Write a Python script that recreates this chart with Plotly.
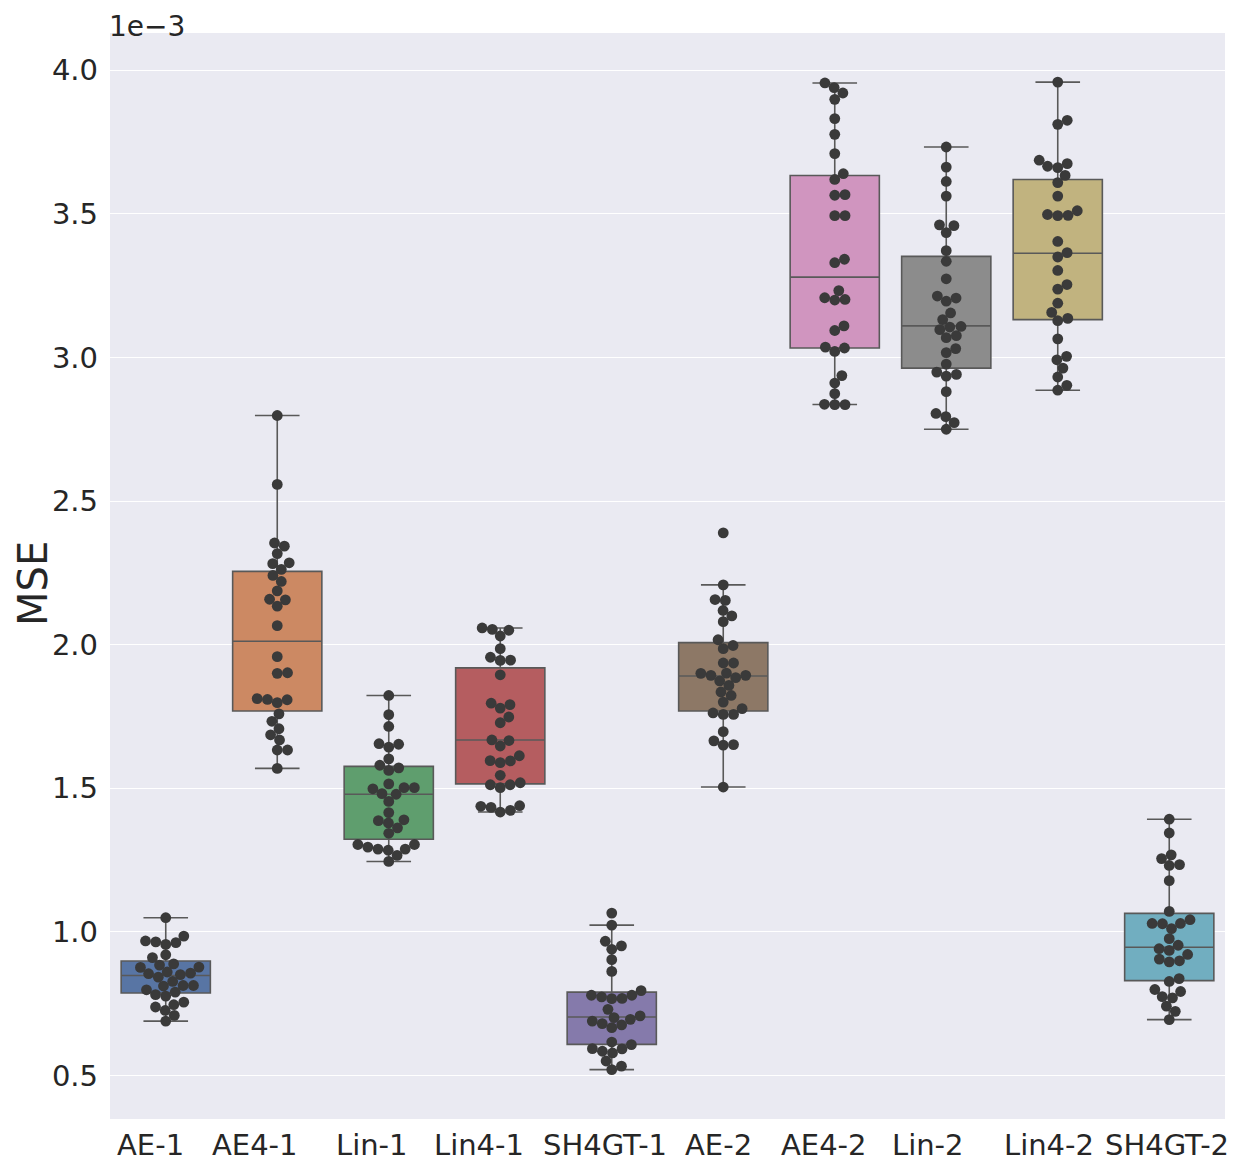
import numpy as np
import plotly.graph_objects as go

categories = ["AE-1", "AE4-1", "Lin-1", "Lin4-1", "SH4GT-1",
              "AE-2", "AE4-2", "Lin-2", "Lin4-2", "SH4GT-2"]

# MSE values (x1e-3)
ae_1 = [1.049, 0.985, 0.962, 0.956, 0.965, 0.968, 0.910, 0.920, 0.876, 0.877,
        0.884, 0.888, 0.854, 0.842, 0.860, 0.851, 0.856, 0.811, 0.827, 0.813,
        0.813, 0.798, 0.781, 0.776, 0.790, 0.755, 0.746, 0.726, 0.738, 0.709, 0.689]
ae4_1 = [2.798, 2.558, 2.343, 2.354, 2.317, 2.285, 2.282, 2.262, 2.241, 2.220,
         2.187, 2.156, 2.158, 2.134, 2.066, 1.958, 1.902, 1.900, 1.808, 1.798,
         1.809, 1.812, 1.759, 1.733, 1.707, 1.686, 1.668, 1.633, 1.633, 1.569]
lin_1 = [1.823, 1.756, 1.715, 1.653, 1.643, 1.655, 1.602, 1.571, 1.562, 1.580,
         1.515, 1.502, 1.502, 1.479, 1.481, 1.498, 1.454, 1.415, 1.390, 1.379,
         1.387, 1.362, 1.343, 1.304, 1.288, 1.266, 1.284, 1.288, 1.295, 1.304, 1.245]
lin4_1 = [2.050, 2.030, 2.053, 2.058, 1.986, 1.946, 1.945, 1.956, 1.895, 1.791,
          1.779, 1.796, 1.748, 1.728, 1.666, 1.647, 1.668, 1.613, 1.595, 1.589,
          1.596, 1.545, 1.512, 1.502, 1.512, 1.519, 1.439, 1.423, 1.417, 1.433, 1.437]
sh4gt_1 = [1.065, 1.023, 0.951, 0.939, 0.967, 0.903, 0.862, 0.795, 0.779, 0.767,
           0.768, 0.773, 0.779, 0.730, 0.695, 0.701, 0.676, 0.666, 0.680, 0.689,
           0.707, 0.616, 0.607, 0.592, 0.578, 0.584, 0.593, 0.550, 0.532, 0.520]
ae_2 = [2.389, 2.208, 2.154, 2.157, 2.119, 2.100, 2.080, 2.017, 1.997, 1.986,
        1.936, 1.936, 1.901, 1.893, 1.893, 1.874, 1.885, 1.900, 1.858, 1.835,
        1.823, 1.800, 1.777, 1.757, 1.757, 1.762, 1.697, 1.652, 1.650, 1.665, 1.504]
ae4_2 = [3.956, 3.940, 3.921, 3.899, 3.832, 3.777, 3.710, 3.640, 3.620, 3.567,
         3.565, 3.494, 3.494, 3.342, 3.330, 3.233, 3.202, 3.200, 3.208, 3.110,
         3.094, 3.033, 3.021, 3.036, 2.937, 2.911, 2.874, 2.836, 2.836, 2.837]
lin_2 = [3.733, 3.663, 3.613, 3.562, 3.462, 3.459, 3.435, 3.372, 3.335, 3.274,
         3.207, 3.196, 3.214, 3.155, 3.132, 3.108, 3.106, 3.097, 3.076, 3.069,
         3.031, 3.017, 2.977, 2.941, 2.935, 2.949, 2.881, 2.805, 2.794, 2.773, 2.750]
lin4_2 = [3.959, 3.826, 3.812, 3.675, 3.661, 3.666, 3.687, 3.634, 3.609, 3.562,
          3.511, 3.495, 3.494, 3.498, 3.404, 3.365, 3.350, 3.303, 3.254, 3.238,
          3.189, 3.157, 3.136, 3.128, 3.065, 3.004, 2.992, 2.963, 2.932, 2.903, 2.886]
sh4gt_2 = [1.392, 1.344, 1.268, 1.255, 1.234, 1.231, 1.178, 1.071, 1.042, 1.028,
           1.011, 1.029, 1.029, 0.976, 0.953, 0.921, 0.935, 0.941, 0.899, 0.895,
           0.905, 0.837, 0.827, 0.792, 0.799, 0.770, 0.774, 0.741, 0.723, 0.694]

mse_values = [ae_1, ae4_1, lin_1, lin4_1, sh4gt_1, ae_2, ae4_2, lin_2, lin4_2, sh4gt_2]

# box statistics
q1 = [0.787, 1.769, 1.322, 1.515, 0.608, 1.769, 3.033, 2.963, 3.132, 0.830]
median = [0.848, 2.012, 1.479, 1.668, 0.703, 1.891, 3.280, 3.110, 3.363, 0.946]
q3 = [0.898, 2.255, 1.576, 1.919, 0.790, 2.007, 3.634, 3.352, 3.620, 1.064]
lower_whisker = [0.689, 1.569, 1.245, 1.417, 0.520, 1.504, 2.836, 2.750, 2.886, 0.694]
upper_whisker = [1.049, 2.798, 1.823, 2.058, 1.023, 2.208, 3.956, 3.733, 3.959, 1.392]

y_ticks = [0.5, 1.0, 1.5, 2.0, 2.5, 3.0, 3.5, 4.0]
y_tick_labels = ["0.5", "1.0", "1.5", "2.0", "2.5", "3.0", "3.5", "4.0"]

colors = ["#5875a4", "#cc8963", "#5f9e6e", "#b55d60", "#857aab",
          "#8d7866", "#d095bf", "#8c8c8c", "#c1b37f", "#71aec0"]
# the category labels in the source sit a little left of their ticks
label_shift = [-15, -22, -17, -21, -7, -5, -11, -18, -9, -2]

Y_RANGE = [0.348, 4.130]
PX_PER_Y = 1085.7 / (Y_RANGE[1] - Y_RANGE[0])
PX_PER_X = 1115 / 10.0
DOT = 10.3
PLOT_H = 1169 - 25 - 58


def swarm(values):
    # simple beeswarm: put each point as close to the centre as it fits
    vals = np.asarray(values)
    ys = vals * PX_PER_Y
    offs = np.zeros(len(vals))
    placed = []
    for i in np.argsort(vals, kind="stable"):
        y = ys[i]
        near = [(px, py) for px, py in placed if abs(py - y) < DOT]
        cands = [0.0]
        for px, py in near:
            dx = np.sqrt(DOT ** 2 - (py - y) ** 2)
            cands += [px + dx, px - dx]
        cands.sort(key=abs)
        for c in cands:
            if all((c - px) ** 2 + (y - py) ** 2 >= DOT ** 2 - 1e-6 for px, py in near):
                offs[i] = c
                placed.append((c, y))
                break
    return offs / PX_PER_X


fig = go.Figure()

for i, cat in enumerate(categories):
    fig.add_trace(go.Box(
        x=[i], q1=[q1[i]], median=[median[i]], q3=[q3[i]],
        lowerfence=[lower_whisker[i]], upperfence=[upper_whisker[i]],
        width=0.8, whiskerwidth=0.5, boxpoints=False,
        fillcolor=colors[i], line=dict(color="#595959", width=1.6),
        name=cat, showlegend=False,
    ))

for i, vals in enumerate(mse_values):
    fig.add_trace(go.Scatter(
        x=i + swarm(vals), y=vals, mode="markers",
        marker=dict(color="#3a3a3a", size=10.8, line=dict(width=0)),
        showlegend=False, hoverinfo="y",
    ))

for i, cat in enumerate(categories):
    fig.add_annotation(
        text=cat, xref="x", yref="paper", x=i, y=0,
        xanchor="center", yanchor="top", showarrow=False,
        xshift=label_shift[i], yshift=-7,
        font=dict(size=29, color="#262626"),
    )

fig.add_annotation(
    text="1e\u22123", xref="paper", yref="paper", x=0, y=1 + 25 / PLOT_H,
    xanchor="left", yanchor="top", showarrow=False,
    font=dict(size=28, color="#262626"), xshift=-3,
)

# y-axis title
fig.add_annotation(
    text="MSE", xref="paper", yref="paper", x=0, y=1 - 551 / PLOT_H,
    xanchor="center", yanchor="middle", textangle=-90, showarrow=False,
    font=dict(size=40, color="#262626"), xshift=-77,
)

fig.update_layout(
    width=1250, height=1169,
    margin=dict(l=102, r=33, t=25, b=58),
    plot_bgcolor="#eaeaf2", paper_bgcolor="#ffffff",
    font=dict(family="DejaVu Sans", size=29, color="#262626"),
    xaxis=dict(
        range=[-0.5, 9.5], tickvals=list(range(len(categories))),
        showticklabels=False, showgrid=False, zeroline=False,
        showline=False, ticks="", automargin=False,
    ),
    yaxis=dict(
        range=Y_RANGE, tickvals=y_ticks, ticktext=y_tick_labels,
        showgrid=True, gridcolor="#ffffff", gridwidth=1.3,
        zeroline=False, showline=False, ticks="",
        tickfont=dict(size=29), ticklabelstandoff=11, automargin=False,
    ),
)

fig.write_html("out.html")
